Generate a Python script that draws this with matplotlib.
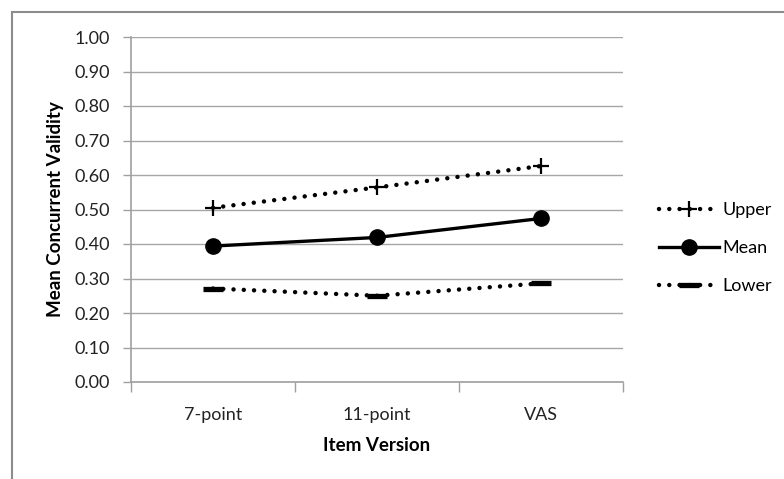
import matplotlib
matplotlib.use("Agg")
import matplotlib.pyplot as plt
from matplotlib.lines import Line2D

categories = ["7-point", "11-point", "VAS"]
upper = [0.505, 0.564, 0.626]
mean = [0.394, 0.419, 0.474]
lower = [0.271, 0.250, 0.286]
yticks = [0.0, 0.1, 0.2, 0.3, 0.4, 0.5, 0.6, 0.7, 0.8, 0.9, 1.0]

plt.rcParams['font.family'] = ['Lato', 'DejaVu Sans']

W, H = 784, 479
fig = plt.figure(figsize=(W/100, H/100), dpi=100)
ax = fig.add_axes([131/W, 1-382/H, (623-131)/W, (382-37)/H])

x = list(range(len(categories)))
dot = (0, (0.01, 2.3))
l1, = ax.plot(x, upper, color='black', lw=3.2, linestyle=dot, dash_capstyle='round',
        marker='+', markersize=12, markeredgewidth=1.6, label='Upper', zorder=3)
l2, = ax.plot(x, mean, color='black', lw=2.4, marker='o', markersize=11, label='Mean', zorder=3)
l3, = ax.plot(x, lower, color='black', lw=3.2, linestyle=dot, dash_capstyle='round',
        marker='_', markersize=15, markeredgewidth=3.8, label='Lower', zorder=3)

fs = 13
ax.set_xlim(-0.5, 2.5)
ax.set_ylim(0, 1.0)
ax.set_yticks(yticks)
ax.set_yticklabels([f"{v:.2f}" for v in yticks], fontsize=fs, color='#222222')
ax.set_xticks(x)
ax.set_xticklabels(categories, fontsize=fs, color='#222222')
ax.set_xticks([-0.5, 0.5, 1.5, 2.5], minor=True)
ax.tick_params(axis='x', which='major', length=0, pad=18)
ax.tick_params(axis='x', which='minor', length=7, color='#a0a0a0', width=1)
ax.tick_params(axis='y', length=6, color='#a0a0a0', width=1, pad=9)
ax.grid(axis='y', color='#a6a6a6', lw=1)
ax.set_axisbelow(True)
for s in ['top', 'right']:
    ax.spines[s].set_visible(False)
for s in ['left', 'bottom']:
    ax.spines[s].set_color('#a0a0a0')
    ax.spines[s].set_linewidth(1.2)

ax.set_xlabel("Item Version", fontsize=13.5, fontweight='bold', labelpad=10)
ax.set_ylabel("Mean Concurrent Validity", fontsize=13.5, fontweight='bold', labelpad=8)

leg = fig.legend(handles=[l1, l2, l3], loc='upper left', bbox_to_anchor=(650/W, 1-193/H),
                 frameon=False, fontsize=fs, handlelength=3.3, labelspacing=1.22,
                 handletextpad=0.2, borderpad=0)

fig.add_artist(Line2D([12/W, 12/W], [0, 1-12/H], color='#8c8c8c', lw=1.5))
fig.add_artist(Line2D([12/W, 1], [1-12/H, 1-12/H], color='#8c8c8c', lw=1.5))

fig.savefig("out.png", dpi=100)
